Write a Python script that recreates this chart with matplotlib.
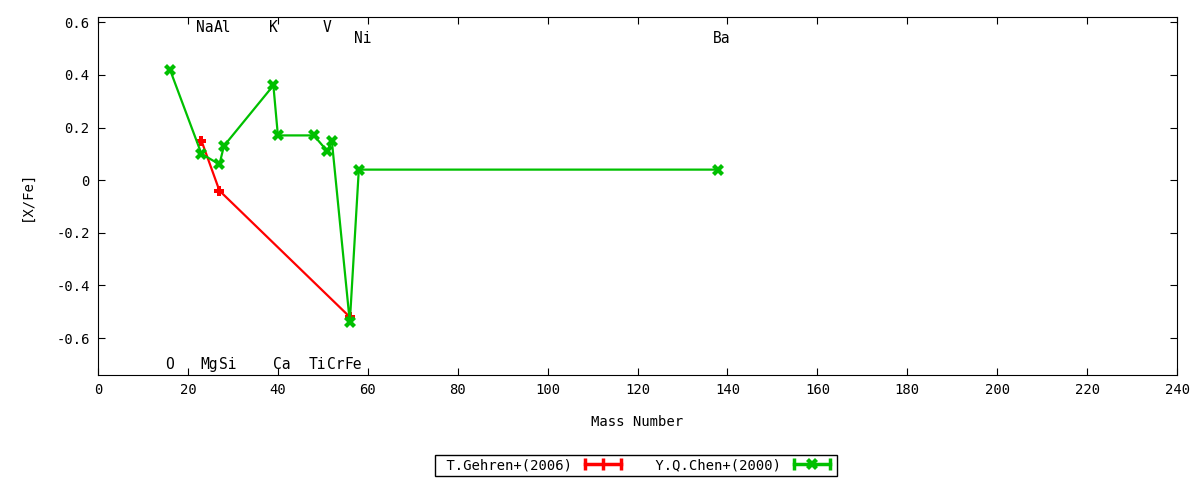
import matplotlib
matplotlib.use("Agg")
import matplotlib.pyplot as plt
import matplotlib.transforms as mtransforms
from matplotlib.lines import Line2D
from matplotlib.legend_handler import HandlerLine2D

# element labels (mass number, name, row)
elem_names = ['O', 'Na', 'Mg', 'Al', 'Si', 'K', 'Ca', 'Ti', 'V', 'Cr', 'Fe', 'Ni', 'Ba']
elem_mass = [16, 23, 24, 27, 28, 39, 40, 48, 51, 52, 56, 58, 138]
elem_row = ['bot', 'top', 'bot', 'top', 'bot', 'top', 'bot', 'bot', 'top', 'bot', 'bot', 'mid', 'mid']

# T.Gehren+(2006)
gehren_mass = [23, 27, 56]
gehren_xfe = [0.15, -0.04, -0.52]

# Y.Q.Chen+(2000)
chen_mass = [16, 23, 27, 28, 39, 40, 48, 51, 52, 56, 58, 138]
chen_xfe = [0.42, 0.10, 0.06, 0.13, 0.36, 0.17, 0.17, 0.11, 0.15, -0.54, 0.04, 0.04]

plt.rcParams['font.family'] = 'DejaVu Sans Mono'
plt.rcParams['font.size'] = 10

fig = plt.figure(figsize=(12, 4.8), dpi=100)
ax = fig.add_axes([0.0817, 0.219, 0.8992, 0.7456])

red = '#ff0000'
green = '#00c000'
ax.plot(gehren_mass, gehren_xfe, color=red, lw=1.6, marker='P', ms=7, mew=0)
ax.plot(chen_mass, chen_xfe, color=green, lw=1.6, marker='X', ms=8, mew=0)

row_y = {'top': 0.58, 'mid': 0.54, 'bot': -0.70}
for name, m, r in zip(elem_names, elem_mass, elem_row):
    shift = mtransforms.offset_copy(ax.transData, fig=fig, x=3.5 * (len(name) - 1), y=0, units='dots')
    ax.text(m, row_y[r], name, ha='center', va='center', fontsize=10.5, transform=shift)

ax.set_xlim(0, 240)
ax.set_ylim(-0.74, 0.62)
ax.set_xticks(range(0, 241, 20))
ax.set_yticks([-0.6, -0.4, -0.2, 0, 0.2, 0.4, 0.6])
ax.set_yticklabels(['-0.6', '-0.4', '-0.2', '0', '0.2', '0.4', '0.6'])
ax.tick_params(direction='in', top=True, right=True, length=5, labelsize=10, pad=6)
ax.set_xlabel('Mass Number', fontsize=10, labelpad=13)
ax.set_ylabel('[X/Fe]', fontsize=10, labelpad=16)

cap_r = Line2D([], [], color=red, lw=2.5, marker='|', ms=9, mew=2.5)
mid_r = Line2D([], [], color=red, lw=0, marker='|', ms=9, mew=2.5)
cap_g = Line2D([], [], color=green, lw=2.5, marker='|', ms=9, mew=2.5)
mid_g = Line2D([], [], color=green, lw=0, marker='X', ms=8, mew=0)
hmap = {cap_r: HandlerLine2D(numpoints=2), cap_g: HandlerLine2D(numpoints=2),
        mid_r: HandlerLine2D(numpoints=1), mid_g: HandlerLine2D(numpoints=1)}
leg = fig.legend([(cap_r, mid_r), (cap_g, mid_g)], [' T.Gehren+(2006)', ' Y.Q.Chen+(2000)'],
                 handler_map=hmap, loc='center', bbox_to_anchor=(0.53, 0.031), ncol=2,
                 markerfirst=False, fancybox=False, edgecolor='black', framealpha=1,
                 borderpad=0.25, handlelength=3.2, handletextpad=0.6, columnspacing=1.6,
                 fontsize=10)
leg.get_frame().set_linewidth(1)

fig.savefig('out.png', dpi=100)
